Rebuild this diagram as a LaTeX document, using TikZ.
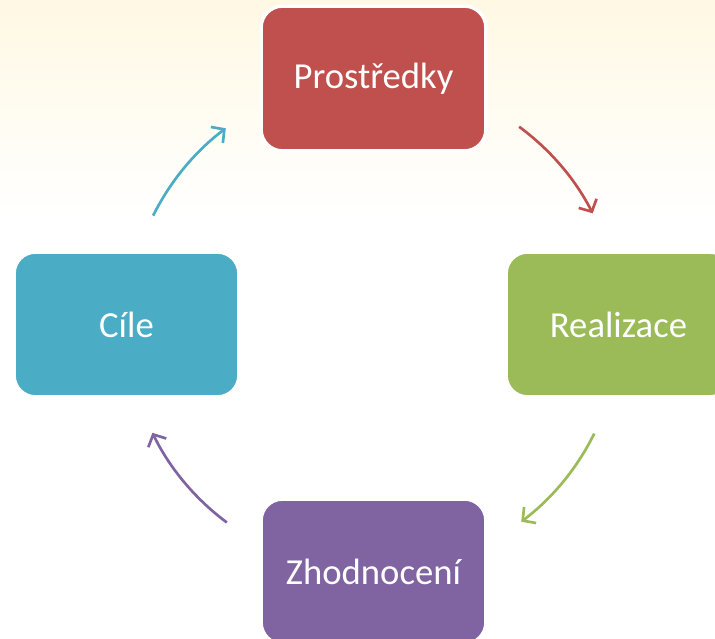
\documentclass[tikz,border=0pt]{standalone}
\usepackage{fontspec}
\setmainfont{Carlito}
\usetikzlibrary{arrows.meta}
\definecolor{cred}{HTML}{C0504D}
\definecolor{cgreen}{HTML}{9BBB59}
\definecolor{cpurple}{HTML}{8064A2}
\definecolor{ccyan}{HTML}{4BACC6}
\definecolor{bgtop}{HTML}{FFF8E3}
\begin{document}
\begin{tikzpicture}[x=0.75pt,y=0.75pt,
  box/.style={rectangle, rounded corners=16pt, draw=white, line width=2.5pt,
    minimum width=168.5pt, minimum height=108.5pt, text=white,
    font=\fontsize{27.5}{33}\selectfont, inner sep=0pt},
  cyc/.style={line width=2pt, -{Straight Barb[length=7pt,width=15pt]}}]
\useasboundingbox (0,0) rectangle (715,639);
\clip (0,0) rectangle (715,639);
\fill[white] (0,0) rectangle (715,639);
\shade[top color=bgtop, bottom color=white] (0,420) rectangle (715,639);
\coordinate (c) at (373.5,314);
\node[box, fill=cred] (p) at (373.5,560.5) {Prostředky};
\node[box, fill=cgreen] (r) at (618.5,314.5) {Realizace};
\node[box, fill=cpurple] (z) at (373.5,67.5) {Zhodnocení};
\node[box, fill=ccyan] (ci) at (126.5,314.5) {Cíle};
\draw[cyc, cred] ([shift={(c)}]53.7:246) arc[start angle=53.7, end angle=27, radius=246];
\draw[cyc, cgreen] ([shift={(c)}]-26.2:246) arc[start angle=-26.2, end angle=-53.1, radius=246];
\draw[cyc, cpurple] ([shift={(c)}]-126.6:246) arc[start angle=-126.6, end angle=-154, radius=246];
\draw[cyc, ccyan] ([shift={(c)}]153.6:246) arc[start angle=153.6, end angle=126.9, radius=246];
\end{tikzpicture}
\end{document}
